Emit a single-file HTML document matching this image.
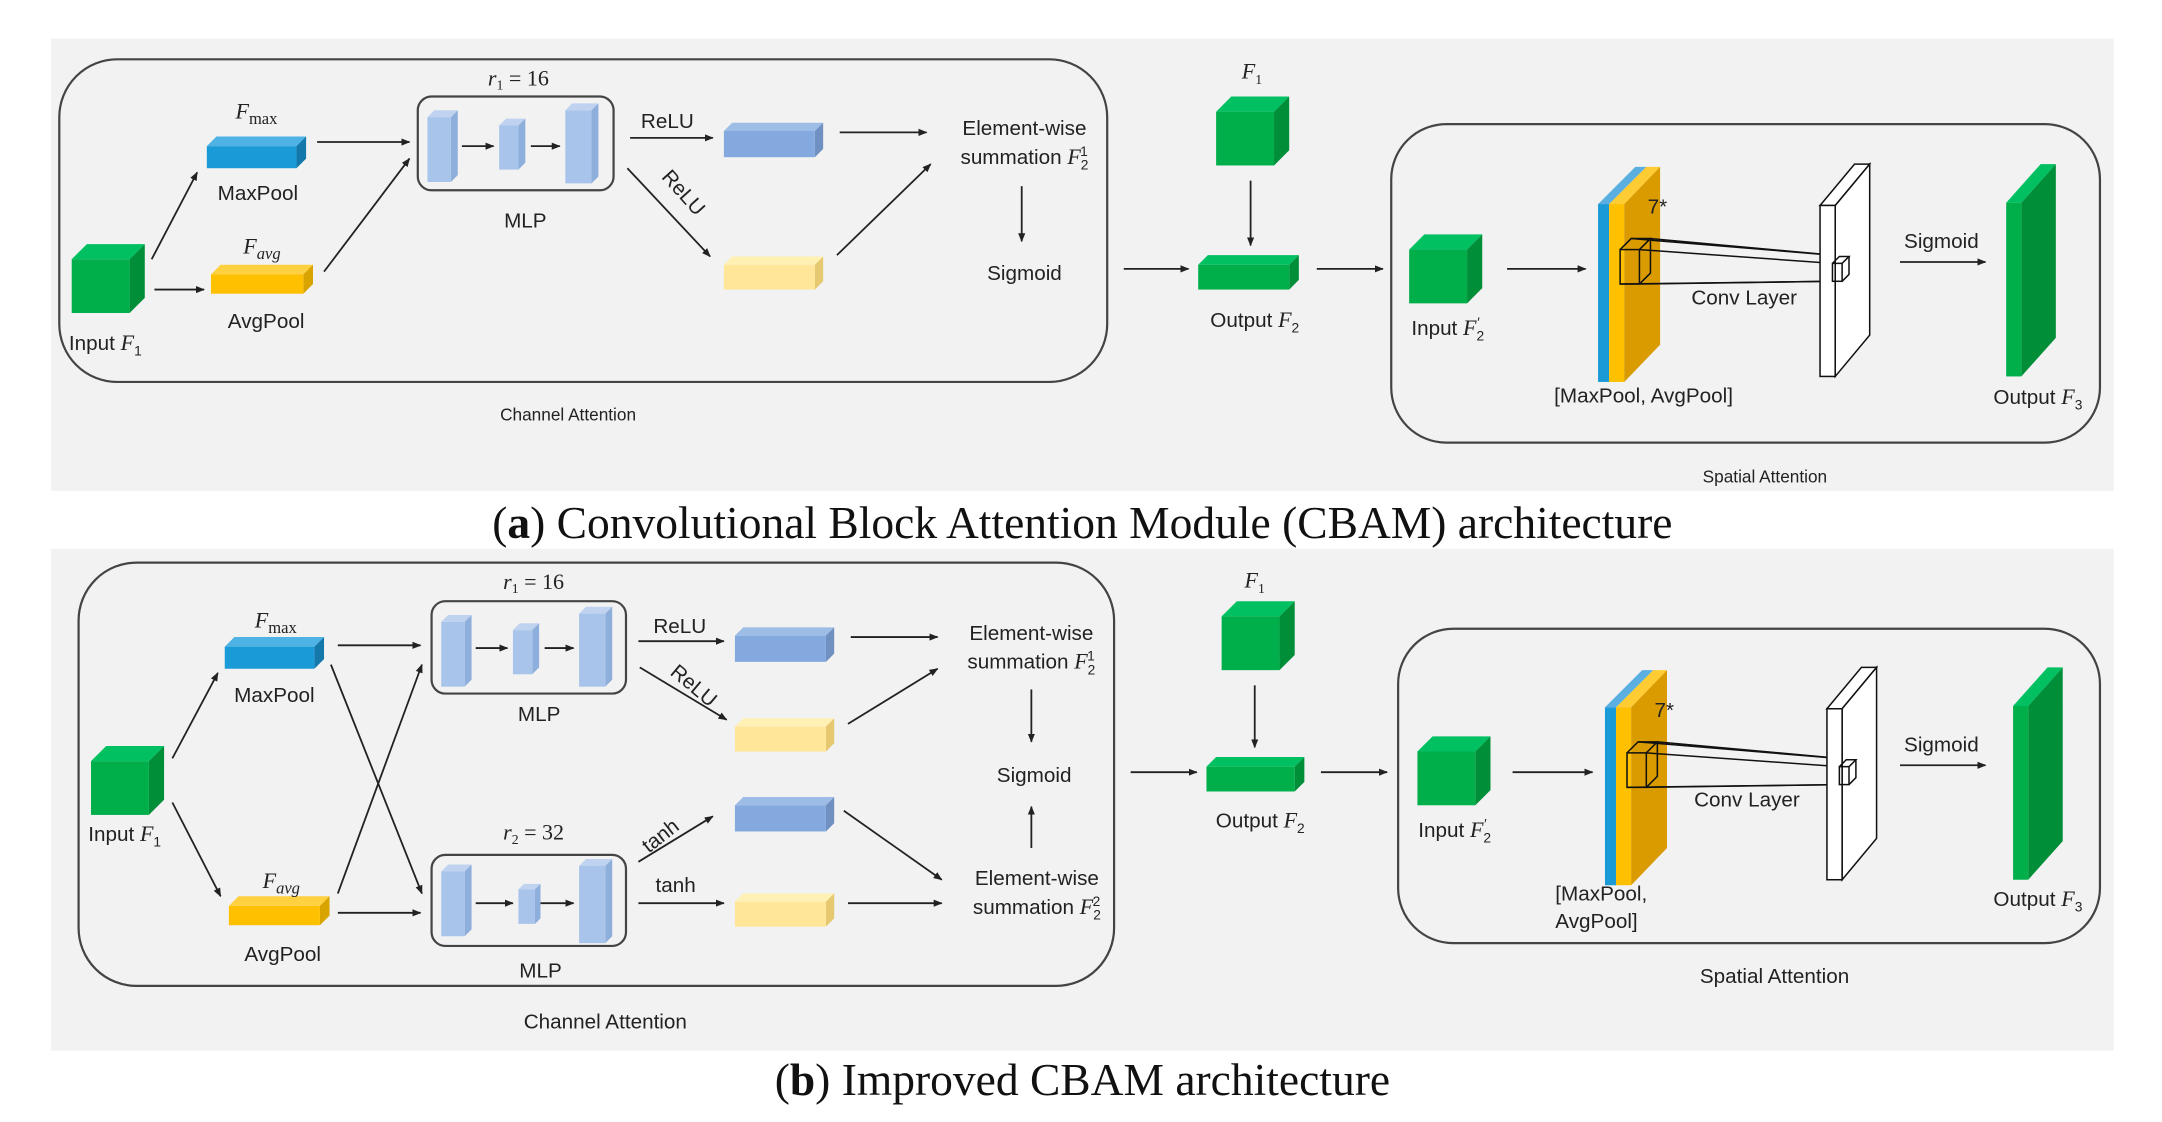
<!DOCTYPE html>
<html><head><meta charset="utf-8"><style>
html,body{margin:0;padding:0;background:#fff;}
svg{display:block;}
text{font-family:"Liberation Sans",sans-serif;fill:#222;}
.l{font-size:15px;}
.s{font-size:12.5px;}
.m{font-family:"Liberation Serif",serif;font-style:italic;font-size:16px;}
.cap{font-family:"Liberation Serif",serif;font-size:33px;fill:#111;}
</style></head><body>
<svg width="2162" height="1122" viewBox="0 0 1568 813.7" preserveAspectRatio="none" xmlns="http://www.w3.org/2000/svg">
<defs>
<marker id="ar" viewBox="0 0 10 10" refX="9" refY="5" markerWidth="5" markerHeight="5" orient="auto"><path d="M0,1 L10,5 L0,9 z" fill="#222"/></marker>
<g id="gcube"><polygon points="0,11 11,0 53,0 42,11" fill="#00c062"/><polygon points="42,11 53,0 53,39 42,50" fill="#008f38"/><rect x="0" y="11" width="42" height="39" fill="#00ae4a"/></g>
<g id="bbar1"><polygon points="0,5 5,0 22,0 17,5" fill="#bfd3f0"/><polygon points="17,5 22,0 22,47 17,52" fill="#8eaedc"/><rect x="0" y="5" width="17" height="47" fill="#a9c4eb"/></g>
</defs>
<rect width="1568" height="814" fill="#fff"/>
<rect x="37" y="28" width="1496" height="328" fill="#f2f2f2"/>
<rect x="37" y="398" width="1496" height="364" fill="#f2f2f2"/>
<text class="cap" x="785" y="390" text-anchor="middle">(<tspan font-weight="bold">a</tspan>) Convolutional Block Attention Module (CBAM) architecture</text>
<text class="cap" x="785" y="794" text-anchor="middle">(<tspan font-weight="bold">b</tspan>) Improved CBAM architecture</text>

<g stroke="#222" stroke-width="1.3" fill="none">
<rect x="43" y="43" width="760" height="234" rx="42" stroke="#444" stroke-width="1.6"/>
<rect x="303" y="70" width="142" height="68" rx="10" stroke="#444" stroke-width="1.6"/>
<rect x="1009" y="90" width="514" height="231" rx="40" stroke="#444" stroke-width="1.6"/>
<line x1="110" y1="188" x2="143" y2="125" marker-end="url(#ar)"/>
<line x1="112" y1="210" x2="148" y2="210" marker-end="url(#ar)"/>
<line x1="230" y1="103" x2="297" y2="103" marker-end="url(#ar)"/>
<line x1="235" y1="197" x2="297" y2="115" marker-end="url(#ar)"/>
<line x1="335" y1="106" x2="358" y2="106" marker-end="url(#ar)"/>
<line x1="385" y1="106" x2="406" y2="106" marker-end="url(#ar)"/>
<line x1="457" y1="100" x2="517" y2="100" marker-end="url(#ar)"/>
<line x1="609" y1="96" x2="672" y2="96" marker-end="url(#ar)"/>
<line x1="455" y1="122" x2="515" y2="186" marker-end="url(#ar)"/>
<line x1="607" y1="185" x2="675" y2="119" marker-end="url(#ar)"/>
<line x1="741" y1="135" x2="741" y2="175" marker-end="url(#ar)"/>
<line x1="815" y1="195" x2="862" y2="195" marker-end="url(#ar)"/>
<line x1="907" y1="131" x2="907" y2="178" marker-end="url(#ar)"/>
<line x1="955" y1="195" x2="1003" y2="195" marker-end="url(#ar)"/>
<line x1="1093" y1="195" x2="1150" y2="195" marker-end="url(#ar)"/>
<line x1="1378" y1="190" x2="1440" y2="190" marker-end="url(#ar)"/>
<rect x="57" y="408" width="751" height="307" rx="42" stroke="#444" stroke-width="1.6"/>
<rect x="313" y="436" width="141" height="67" rx="10" stroke="#444" stroke-width="1.6"/>
<rect x="313" y="620" width="141" height="66" rx="10" stroke="#444" stroke-width="1.6"/>
<rect x="1014" y="456" width="509" height="228" rx="40" stroke="#444" stroke-width="1.6"/>
<line x1="125" y1="550" x2="158" y2="488" marker-end="url(#ar)"/>
<line x1="125" y1="582" x2="160" y2="650" marker-end="url(#ar)"/>
<line x1="245" y1="468" x2="305" y2="468" marker-end="url(#ar)"/>
<line x1="240" y1="482" x2="306" y2="648" marker-end="url(#ar)"/>
<line x1="245" y1="648" x2="306" y2="482" marker-end="url(#ar)"/>
<line x1="245" y1="662" x2="305" y2="662" marker-end="url(#ar)"/>
<line x1="345" y1="470" x2="368" y2="470" marker-end="url(#ar)"/>
<line x1="395" y1="470" x2="416" y2="470" marker-end="url(#ar)"/>
<line x1="345" y1="655" x2="372" y2="655" marker-end="url(#ar)"/>
<line x1="392" y1="655" x2="416" y2="655" marker-end="url(#ar)"/>
<line x1="463" y1="465" x2="525" y2="465" marker-end="url(#ar)"/>
<line x1="617" y1="462" x2="680" y2="462" marker-end="url(#ar)"/>
<line x1="464" y1="484" x2="527" y2="522" marker-end="url(#ar)"/>
<line x1="615" y1="525" x2="680" y2="485" marker-end="url(#ar)"/>
<line x1="748" y1="500" x2="748" y2="538" marker-end="url(#ar)"/>
<line x1="748" y1="615" x2="748" y2="585" marker-end="url(#ar)"/>
<line x1="463" y1="625" x2="517" y2="592" marker-end="url(#ar)"/>
<line x1="612" y1="588" x2="683" y2="638" marker-end="url(#ar)"/>
<line x1="463" y1="655" x2="525" y2="655" marker-end="url(#ar)"/>
<line x1="615" y1="655" x2="683" y2="655" marker-end="url(#ar)"/>
<line x1="820" y1="560" x2="868" y2="560" marker-end="url(#ar)"/>
<line x1="910" y1="497" x2="910" y2="542" marker-end="url(#ar)"/>
<line x1="958" y1="560" x2="1006" y2="560" marker-end="url(#ar)"/>
<line x1="1097" y1="560" x2="1155" y2="560" marker-end="url(#ar)"/>
<line x1="1378" y1="555" x2="1440" y2="555" marker-end="url(#ar)"/>
</g>

<use href="#gcube" x="52" y="177"/>
<g transform="translate(150,99)"><polygon points="0,7 7,0 72,0 65,7" fill="#4fb2e4"/><polygon points="65,7 72,0 72,16 65,23" fill="#1478ab"/><rect x="0" y="7" width="65" height="16" fill="#1a9ad6"/></g>
<g transform="translate(153,192)"><polygon points="0,7 7,0 74,0 67,7" fill="#ffd040"/><polygon points="67,7 74,0 74,14 67,21" fill="#d9a300"/><rect x="0" y="7" width="67" height="14" fill="#ffc000"/></g>
<use href="#bbar1" x="310" y="80"/>
<g transform="translate(362,86)"><polygon points="0,5 5,0 19,0 14,5" fill="#bfd3f0"/><polygon points="14,5 19,0 19,32 14,37" fill="#8eaedc"/><rect x="0" y="5" width="14" height="32" fill="#a9c4eb"/></g>
<g transform="translate(410,75)"><polygon points="0,5 5,0 24,0 19,5" fill="#bfd3f0"/><polygon points="19,5 24,0 24,53 19,58" fill="#8eaedc"/><rect x="0" y="5" width="19" height="53" fill="#a9c4eb"/></g>
<g transform="translate(525,89)"><polygon points="0,6 6,0 72,0 66,6" fill="#9dbce6"/><polygon points="66,6 72,0 72,19 66,25" fill="#6f90c0"/><rect x="0" y="6" width="66" height="19" fill="#84a9de"/></g>
<g transform="translate(525,186)"><polygon points="0,6 6,0 72,0 66,6" fill="#fff0b3"/><polygon points="66,6 72,0 72,18 66,24" fill="#e6c870"/><rect x="0" y="6" width="66" height="18" fill="#ffe699"/></g>
<use href="#gcube" x="882" y="70"/>
<g transform="translate(869,185)"><polygon points="0,7 7,0 73,0 66,7" fill="#00c062"/><polygon points="66,7 73,0 73,18 66,25" fill="#008f38"/><rect x="0" y="7" width="66" height="18" fill="#00ae4a"/></g>
<use href="#gcube" x="1022" y="170"/>
<g transform="translate(0,-365)"><g id="slab">
<polygon points="1159,513 1186,486 1194,486 1167,513" fill="#5aaee0"/>
<polygon points="1167,513 1194,486 1204,486 1178,513" fill="#ffcc33"/>
<rect x="1159" y="513" width="8" height="129" fill="#1a9ad6"/>
<rect x="1167" y="513" width="11" height="129" fill="#ffc000"/>
<polygon points="1178,513 1204,486 1204,615 1178,642" fill="#d99b00"/>
<g fill="none" stroke="#111" stroke-width="1.1">
<rect x="1175" y="546" width="14" height="25"/>
<polyline points="1175,546 1183,538 1197,538 1189,546"/>
<polyline points="1197,538 1197,563 1189,571"/>
<line x1="1183" y1="538" x2="1340" y2="551"/>
<line x1="1197" y1="538" x2="1340" y2="551"/>
<line x1="1189" y1="546" x2="1329" y2="556"/>
<line x1="1189" y1="571" x2="1329" y2="569"/>
<line x1="1175" y1="571" x2="1329" y2="569"/>
<g transform="translate(7,0)">
<polygon points="1313,514 1338,484 1349,484 1324,514" fill="#fff"/>
<polygon points="1324,514 1349,484 1349,608 1324,638" fill="#fff"/>
<rect x="1313" y="514" width="11" height="124" fill="#fff"/>
<rect x="1322" y="556" width="7" height="13"/>
<polyline points="1322,556 1327,551 1334,551 1329,556"/>
<polyline points="1334,551 1334,564 1329,569"/>
</g>
</g>
<g transform="translate(8,0)">
<polygon points="1447,512 1472,484 1483,484 1458,512" fill="#00c062"/>
<rect x="1447" y="512" width="11" height="126" fill="#00ae4a"/>
<polygon points="1458,512 1483,484 1483,610 1458,638" fill="#008f38"/>
</g>
</g></g>

<use href="#gcube" x="66" y="541"/>
<g transform="translate(163,462)"><polygon points="0,7 7,0 72,0 65,7" fill="#4fb2e4"/><polygon points="65,7 72,0 72,16 65,23" fill="#1478ab"/><rect x="0" y="7" width="65" height="16" fill="#1a9ad6"/></g>
<g transform="translate(166,650)"><polygon points="0,7 7,0 73,0 66,7" fill="#ffd040"/><polygon points="66,7 73,0 73,14 66,21" fill="#d9a300"/><rect x="0" y="7" width="66" height="14" fill="#ffc000"/></g>
<use href="#bbar1" x="320" y="446"/>
<g transform="translate(372,452)"><polygon points="0,5 5,0 19,0 14,5" fill="#bfd3f0"/><polygon points="14,5 19,0 19,32 14,37" fill="#8eaedc"/><rect x="0" y="5" width="14" height="32" fill="#a9c4eb"/></g>
<g transform="translate(420,440)"><polygon points="0,5 5,0 24,0 19,5" fill="#bfd3f0"/><polygon points="19,5 24,0 24,53 19,58" fill="#8eaedc"/><rect x="0" y="5" width="19" height="53" fill="#a9c4eb"/></g>
<use href="#bbar1" x="320" y="627"/>
<g transform="translate(376,641)"><polygon points="0,4 4,0 16,0 12,4" fill="#bfd3f0"/><polygon points="12,4 16,0 16,25 12,29" fill="#8eaedc"/><rect x="0" y="4" width="12" height="25" fill="#a9c4eb"/></g>
<g transform="translate(420,623)"><polygon points="0,5 5,0 24,0 19,5" fill="#bfd3f0"/><polygon points="19,5 24,0 24,56 19,61" fill="#8eaedc"/><rect x="0" y="5" width="19" height="56" fill="#a9c4eb"/></g>
<g transform="translate(533,455)"><polygon points="0,6 6,0 72,0 66,6" fill="#9dbce6"/><polygon points="66,6 72,0 72,19 66,25" fill="#6f90c0"/><rect x="0" y="6" width="66" height="19" fill="#84a9de"/></g>
<g transform="translate(533,521)"><polygon points="0,6 6,0 72,0 66,6" fill="#fff0b3"/><polygon points="66,6 72,0 72,18 66,24" fill="#e6c870"/><rect x="0" y="6" width="66" height="18" fill="#ffe699"/></g>
<g transform="translate(533,578)"><polygon points="0,6 6,0 72,0 66,6" fill="#9dbce6"/><polygon points="66,6 72,0 72,19 66,25" fill="#6f90c0"/><rect x="0" y="6" width="66" height="19" fill="#84a9de"/></g>
<g transform="translate(533,648)"><polygon points="0,6 6,0 72,0 66,6" fill="#fff0b3"/><polygon points="66,6 72,0 72,18 66,24" fill="#e6c870"/><rect x="0" y="6" width="66" height="18" fill="#ffe699"/></g>
<use href="#gcube" x="886" y="436"/>
<g transform="translate(875,549)"><polygon points="0,7 7,0 71,0 64,7" fill="#00c062"/><polygon points="64,7 71,0 71,18 64,25" fill="#008f38"/><rect x="0" y="7" width="64" height="18" fill="#00ae4a"/></g>
<use href="#gcube" x="1028" y="534"/>
<use href="#slab" x="5" y="0"/>

<text class="m" x="186" y="86" text-anchor="middle">F<tspan font-style="normal" font-size="12" dy="4">max</tspan></text>
<text class="l" x="187" y="145" text-anchor="middle">MaxPool</text>
<text class="m" x="190" y="184" text-anchor="middle">F<tspan font-size="12" dy="4">avg</tspan></text>
<text class="l" x="193" y="238" text-anchor="middle">AvgPool</text>
<text class="l" x="50" y="254">Input <tspan class="m">F</tspan><tspan font-size="10" dy="4">1</tspan></text>
<text class="m" x="376" y="62" text-anchor="middle">r<tspan font-size="10" dy="3" font-style="normal">1</tspan><tspan dy="-3" font-style="normal"> = 16</tspan></text>
<text class="l" x="381" y="165" text-anchor="middle">MLP</text>
<text class="l" x="484" y="93" text-anchor="middle">ReLU</text>
<text class="l" x="0" y="0" text-anchor="middle" transform="translate(492,143) rotate(48)">ReLU</text>
<text class="l" x="743" y="98" text-anchor="middle">Element-wise</text>
<text class="l" x="743" y="119" text-anchor="middle">summation <tspan class="m">F</tspan><tspan font-size="10" dy="4">2</tspan><tspan font-size="10" dx="-6" dy="-10">1</tspan></text>
<text class="l" x="743" y="203" text-anchor="middle">Sigmoid</text>
<text class="m" x="908" y="57" text-anchor="middle">F<tspan font-style="normal" font-size="10" dy="4">1</tspan></text>
<text class="l" x="910" y="237" text-anchor="middle">Output <tspan class="m">F</tspan><tspan font-size="10" dy="4">2</tspan></text>
<text class="l" x="1050" y="243" text-anchor="middle">Input <tspan class="m">F</tspan><tspan font-size="10" dy="4">2</tspan><tspan font-size="10" dx="-5" dy="-10">′</tspan></text>
<text class="l" x="1202" y="155" text-anchor="middle">7*</text>
<text class="l" x="1265" y="221" text-anchor="middle">Conv Layer</text>
<text class="l" x="1408" y="180" text-anchor="middle">Sigmoid</text>
<text class="l" x="1192" y="292" text-anchor="middle">[MaxPool, AvgPool]</text>
<text class="l" x="1478" y="293" text-anchor="middle">Output <tspan class="m">F</tspan><tspan font-size="10" dy="4">3</tspan></text>
<text class="s" x="412" y="305" text-anchor="middle">Channel Attention</text>
<text class="s" x="1280" y="350" text-anchor="middle">Spatial Attention</text>

<text class="m" x="200" y="455" text-anchor="middle">F<tspan font-style="normal" font-size="12" dy="4">max</tspan></text>
<text class="l" x="199" y="509" text-anchor="middle">MaxPool</text>
<text class="m" x="204" y="644" text-anchor="middle">F<tspan font-size="12" dy="4">avg</tspan></text>
<text class="l" x="205" y="697" text-anchor="middle">AvgPool</text>
<text class="l" x="64" y="610">Input <tspan class="m">F</tspan><tspan font-size="10" dy="4">1</tspan></text>
<text class="m" x="387" y="427" text-anchor="middle">r<tspan font-size="10" dy="3" font-style="normal">1</tspan><tspan dy="-3" font-style="normal"> = 16</tspan></text>
<text class="l" x="391" y="523" text-anchor="middle">MLP</text>
<text class="m" x="387" y="609" text-anchor="middle">r<tspan font-size="10" dy="3" font-style="normal">2</tspan><tspan dy="-3" font-style="normal"> = 32</tspan></text>
<text class="l" x="392" y="709" text-anchor="middle">MLP</text>
<text class="l" x="493" y="459" text-anchor="middle">ReLU</text>
<text class="l" x="0" y="0" text-anchor="middle" transform="translate(500,501) rotate(40)">ReLU</text>
<text class="l" x="0" y="0" text-anchor="middle" transform="translate(482,610) rotate(-38)">tanh</text>
<text class="l" x="490" y="647" text-anchor="middle">tanh</text>
<text class="l" x="748" y="464" text-anchor="middle">Element-wise</text>
<text class="l" x="748" y="485" text-anchor="middle">summation <tspan class="m">F</tspan><tspan font-size="10" dy="4">2</tspan><tspan font-size="10" dx="-6" dy="-10">1</tspan></text>
<text class="l" x="750" y="567" text-anchor="middle">Sigmoid</text>
<text class="l" x="752" y="642" text-anchor="middle">Element-wise</text>
<text class="l" x="752" y="663" text-anchor="middle">summation <tspan class="m">F</tspan><tspan font-size="10" dy="4">2</tspan><tspan font-size="10" dx="-6" dy="-10">2</tspan></text>
<text class="m" x="910" y="426" text-anchor="middle">F<tspan font-style="normal" font-size="10" dy="4">1</tspan></text>
<text class="l" x="914" y="600" text-anchor="middle">Output <tspan class="m">F</tspan><tspan font-size="10" dy="4">2</tspan></text>
<text class="l" x="1055" y="607" text-anchor="middle">Input <tspan class="m">F</tspan><tspan font-size="10" dy="4">2</tspan><tspan font-size="10" dx="-5" dy="-10">′</tspan></text>
<text class="l" x="1207" y="520" text-anchor="middle">7*</text>
<text class="l" x="1267" y="585" text-anchor="middle">Conv Layer</text>
<text class="l" x="1408" y="545" text-anchor="middle">Sigmoid</text>
<text class="l" x="1128" y="653">[MaxPool,</text>
<text class="l" x="1128" y="673">AvgPool]</text>
<text class="l" x="1478" y="657" text-anchor="middle">Output <tspan class="m">F</tspan><tspan font-size="10" dy="4">3</tspan></text>
<text class="l" x="439" y="746" text-anchor="middle">Channel Attention</text>
<text class="l" x="1287" y="713" text-anchor="middle">Spatial Attention</text>
</svg>
</body></html>
